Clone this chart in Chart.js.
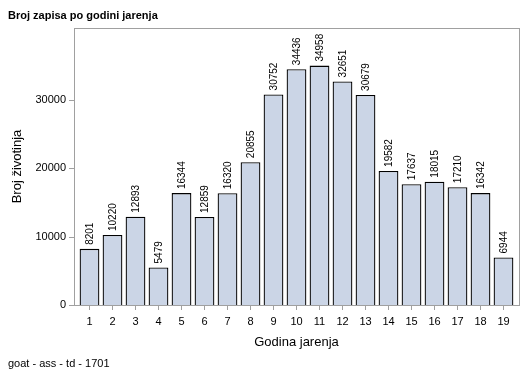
<!DOCTYPE html>
<html><head><meta charset="utf-8">
<script src="https://cdn.jsdelivr.net/npm/chart.js@4/dist/chart.umd.min.js"></script>
<style>html,body{margin:0;padding:0;background:#fff}#wrap{width:529px;height:378px}</style>
</head><body><div id="wrap"><canvas id="c" width="529" height="378"></canvas></div>
<script>
const categories = ['1','2','3','4','5','6','7','8','9','10','11','12','13','14','15','16','17','18','19'];
const counts = [8201,10220,12893,5479,16344,12859,16320,20855,30752,34436,34958,32651,30679,19582,17637,18015,17210,16342,6944];
const yTicks = [0,10000,20000,30000];
const titleText = 'Broj zapisa po godini jarenja';
const footText = 'goat - ass - td - 1701';
const xTitle = 'Godina jarenja';
const yTitle = 'Broj životinja';

const FONT = '"Liberation Sans", Arial, sans-serif';
const FRAME_L = 74, FRAME_R = 520;
const extras = {
  id: 'extras',
  afterDraw(chart) {
    const ctx = chart.ctx, a = chart.chartArea;
    ctx.save();
    ctx.strokeStyle = '#a0a0a0'; ctx.lineWidth = 1;
    const top = Math.round(a.top), bot = Math.round(a.bottom);
    ctx.strokeRect(FRAME_L + 0.5, top + 0.5, FRAME_R - FRAME_L - 1, bot - top);
    const ys = chart.scales.y;
    ctx.beginPath();
    yTicks.forEach(v => {
      const py = Math.round(ys.getPixelForValue(v)) + 0.5;
      ctx.moveTo(FRAME_L - 5, py); ctx.lineTo(FRAME_L, py);
    });
    ctx.stroke();
    ctx.fillStyle = '#000';
    ctx.font = 'bold 11px ' + FONT;
    ctx.textBaseline = 'alphabetic'; ctx.textAlign = 'left';
    ctx.fillText(titleText, 8, 19);
    ctx.font = '11px ' + FONT;
    ctx.fillText(footText, 8, 367);
    const meta = chart.getDatasetMeta(0);
    ctx.font = '10px ' + FONT;
    meta.data.forEach((bar, i) => {
      ctx.save();
      ctx.translate(bar.x + 3.5, bar.y - 4);
      ctx.rotate(-Math.PI / 2);
      ctx.textAlign = 'left';
      ctx.fillText(String(counts[i]), 0, 0);
      ctx.restore();
    });
    ctx.restore();
  }
};

new Chart(document.getElementById('c'), {
  type: 'bar',
  data: { labels: categories, datasets: [{ data: counts, backgroundColor: 'rgb(203,213,230)', borderColor: '#000', borderWidth: 1.3, barPercentage: 0.86, categoryPercentage: 1 }] },
  options: {
    responsive: false, animation: false, devicePixelRatio: 1,
    layout: { padding: { top: 28, right: 14, left: 0, bottom: 0 } },
    plugins: { legend: { display: false }, tooltip: { enabled: false }, title: { display: false } },
    scales: {
      x: {
        offset: true,
        grid: { display: true, drawOnChartArea: false, drawTicks: true, tickLength: 5, color: '#a0a0a0', offset: false },
        border: { display: false },
        ticks: { color: '#000', font: { family: FONT, size: 11 }, padding: 5, maxRotation: 0, autoSkip: false },
        title: { display: true, text: xTitle, color: '#000', font: { family: FONT, size: 13 }, padding: { top: 4, bottom: 28 } },
        afterFit(s) { s.height = 73; }
      },
      y: {
        min: 0, max: 40450,
        afterBuildTicks(s) { s.ticks = yTicks.map(v => ({ value: v })); },
        grid: { display: false, drawTicks: false },
        border: { display: false },
        ticks: { color: '#000', font: { family: FONT, size: 11 }, padding: 12, callback: v => String(v) },
        title: { display: true, text: yTitle, color: '#000', font: { family: FONT, size: 13 }, padding: { top: 10, bottom: 0 } },
        afterFit(s) { s.width = 78; }
      }
    }
  },
  plugins: [extras]
});
</script></body></html>
